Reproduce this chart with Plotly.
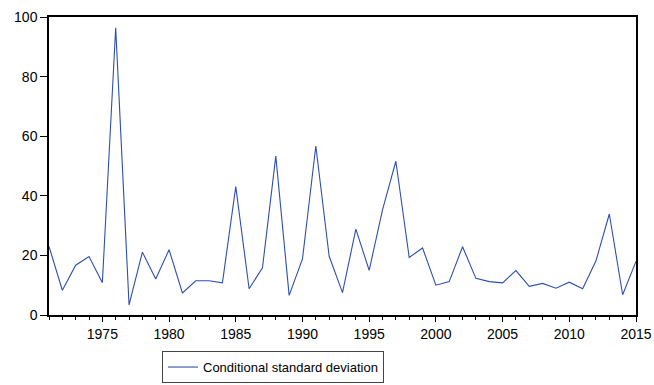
import plotly.graph_objects as go

years = list(range(1971, 2016))
cond_sd = [23.0, 8.3, 16.7, 19.6, 10.8, 96.4, 3.4, 21.1, 12.1, 21.9,
           7.4, 11.5, 11.5, 10.8, 43.1, 8.8, 15.8, 53.3, 6.6, 18.8,
           56.7, 19.7, 7.5, 28.8, 15.0, 35.3, 51.6, 19.3, 22.5, 10.0,
           11.2, 22.9, 12.3, 11.2, 10.8, 14.9, 9.6, 10.6, 9.0, 11.0,
           8.8, 18.2, 33.9, 6.8, 18.0]
series_name = "Conditional standard deviation"
x_ticks = [1975, 1980, 1985, 1990, 1995, 2000, 2005, 2010, 2015]
y_ticks = [0, 20, 40, 60, 80, 100]

fig = go.Figure()
fig.add_trace(go.Scatter(x=years, y=cond_sd, mode="lines", name=series_name,
                         line=dict(color="#2E4FB0", width=1.1), showlegend=True))

font = dict(family="Liberation Sans, Arial, sans-serif", size=14, color="#000000")
lfont = dict(family="Liberation Sans, Arial, sans-serif", size=13, color="#000000")
fig.update_layout(
    width=654, height=385,
    margin=dict(l=49, r=18, t=17, b=70, autoexpand=False),
    paper_bgcolor="white", plot_bgcolor="white",
    font=font,
    showlegend=True,
    legend=dict(orientation="h", x=0.3816, xanchor="center",
                yref="container", y=0.005, yanchor="bottom",
                bordercolor="#444444", borderwidth=1, bgcolor="white",
                itemwidth=30, font=lfont),
    xaxis=dict(range=[1971, 2015], tickvals=x_ticks, ticks="outside", ticklen=5,
               tickcolor="black", showline=True, linecolor="black", linewidth=1.5,
               mirror=True, showgrid=False, zeroline=False, automargin=False,
               minor=dict(dtick=1, tick0=1971, ticks="outside", ticklen=3, tickcolor="black"),
               tickfont=font),
    yaxis=dict(range=[0, 100], tickvals=y_ticks, ticks="outside", ticklen=7,
               tickcolor="black", showline=True, linecolor="black", linewidth=1.5,
               mirror=True, showgrid=False, zeroline=False, automargin=False,
               tickfont=font),
)

fig.write_html("out.html")
